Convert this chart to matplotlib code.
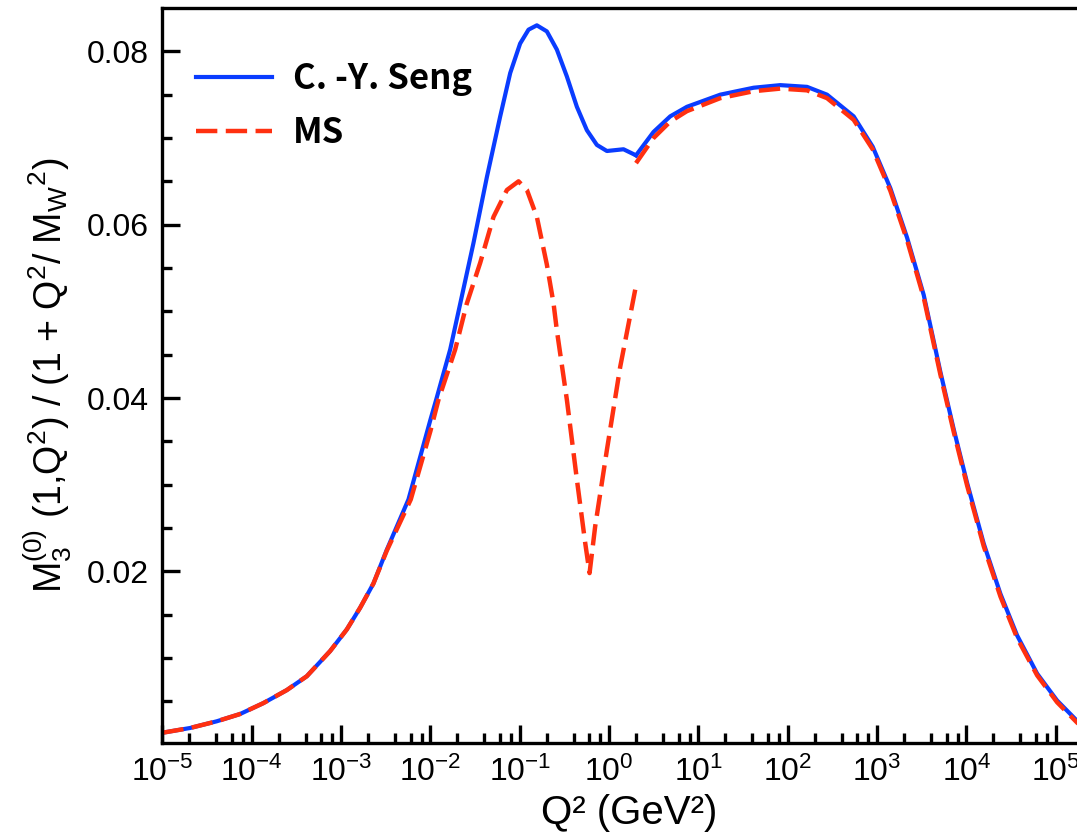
"""Plot M3^(0)(1,Q^2)/(1+Q^2/MW^2) versus Q^2: C.-Y. Seng vs MS."""

import matplotlib.pyplot as plt
import numpy as np
from matplotlib.ticker import FixedLocator, LogLocator, NullFormatter

plt.rcParams["font.family"] = ["Liberation Sans", "DejaVu Sans"]
plt.rcParams["mathtext.fontset"] = "custom"
plt.rcParams["mathtext.rm"] = "Liberation Sans"
plt.rcParams["mathtext.it"] = "Liberation Sans:italic"
plt.rcParams["mathtext.bf"] = "Liberation Sans:bold"
plt.rcParams["axes.unicode_minus"] = False

# log10(Q^2 / GeV^2) and curve values
seng_low_logq2 = [-5.0, -4.69, -4.392, -4.131, -3.87, -3.608, -3.384, -3.123,
                  -2.936, -2.787, -2.638, -2.488, -2.246, -2.0, -1.936, -1.779,
                  -1.66, -1.518, -1.368, -1.219, -1.107, -0.996, -0.902, -0.809,
                  -0.697, -0.585, -0.473, -0.361, -0.249, -0.137, -0.025, 0.161,
                  0.301]
seng_low_val = [0.00138, 0.00193, 0.0027, 0.00354, 0.0048, 0.0063, 0.0079, 0.0108,
                0.0133, 0.0158, 0.0186, 0.0225, 0.0283, 0.0375, 0.0398, 0.0456,
                0.0512, 0.0579, 0.0655, 0.0725, 0.0775, 0.0809, 0.0825, 0.0830,
                0.0823, 0.0802, 0.0771, 0.0736, 0.0709, 0.0692, 0.0685, 0.0687,
                0.0680]

seng_high_logq2 = [0.301, 0.497, 0.684, 0.871, 1.244, 1.617, 1.916, 2.215, 2.439,
                   2.737, 2.95, 3.148, 3.335, 3.521, 3.708, 3.857, 4.007, 4.193,
                   4.380, 4.567, 4.791, 5.014, 5.243, 5.45]
seng_high_val = [0.0680, 0.0707, 0.0725, 0.0736, 0.0750, 0.0758, 0.0761, 0.0759,
                 0.0750, 0.0725, 0.0690, 0.0642, 0.0585, 0.0519, 0.0430, 0.0364,
                 0.0302, 0.0232, 0.0174, 0.0126, 0.0082, 0.0051, 0.0027, 0.0015]

ms_low_logq2 = [-5.0, -4.69, -4.392, -4.131, -3.87, -3.608, -3.384, -3.123,
                -2.936, -2.787, -2.638, -2.488, -2.22, -2.0, -1.91, -1.723,
                -1.593, -1.443, -1.294, -1.144, -1.014, -0.92, -0.809, -0.697,
                -0.622, -0.585, -0.473, -0.361, -0.268, -0.219, -0.156, -0.025,
                0.124, 0.292]
ms_low_val = [0.00138, 0.00193, 0.0027, 0.00354, 0.0048, 0.0063, 0.0079, 0.0108,
              0.0133, 0.0158, 0.0186, 0.0224, 0.0283, 0.0362, 0.0398, 0.0456,
              0.0509, 0.0556, 0.0609, 0.0640, 0.0650, 0.0640, 0.0609, 0.0554,
              0.0509, 0.0478, 0.0398, 0.0306, 0.0233, 0.0198, 0.0252, 0.0340,
              0.0436, 0.0525]

ms_high_logq2 = [0.301, 0.497, 0.684, 0.871, 1.244, 1.617, 1.916, 2.215, 2.439,
                 2.737, 2.95, 3.148, 3.335, 3.521, 3.708, 3.857, 4.007, 4.193,
                 4.380, 4.567, 4.791, 5.014, 5.243, 5.45]
ms_high_val = [0.0671, 0.0700, 0.0719, 0.0731, 0.0746, 0.0754, 0.0757, 0.0755,
               0.0746, 0.0721, 0.0687, 0.0639, 0.0582, 0.0516, 0.0427, 0.0361,
               0.0299, 0.0229, 0.0171, 0.0123, 0.0080, 0.0049, 0.0025, 0.0014]

BLUE = "#0a3cff"
RED = "#ff3010"
DASHES = (4.8, 1.9)


def main() -> None:
    fig = plt.figure(figsize=(10.77, 8.32), dpi=100)
    ax = fig.add_axes([0.1508, 0.1070, 0.8663, 0.8834])

    ax.plot(10 ** np.array(seng_low_logq2), seng_low_val, color=BLUE,
            linewidth=3, label="C. -Y. Seng")
    ax.plot(10 ** np.array(seng_high_logq2), seng_high_val, color=BLUE,
            linewidth=3)
    ax.plot(10 ** np.array(ms_low_logq2), ms_low_val, color=RED, linewidth=3.2,
            dashes=DASHES, label="MS")
    ax.plot(10 ** np.array(ms_high_logq2), ms_high_val, color=RED, linewidth=3.2,
            dashes=DASHES)

    ax.set_xscale("log")
    ax.set_xlim(1e-5, 10 ** 5.443)
    ax.set_ylim(0.0002, 0.085)

    ax.xaxis.set_major_locator(LogLocator(base=10, numticks=20))
    ax.xaxis.set_minor_locator(LogLocator(base=10, subs=[2, 4, 6, 8], numticks=20))
    ax.xaxis.set_minor_formatter(NullFormatter())
    ax.yaxis.set_major_locator(FixedLocator([0.02, 0.04, 0.06, 0.08]))
    ax.yaxis.set_minor_locator(FixedLocator(np.arange(0.005, 0.085, 0.005)))
    ax.set_yticklabels(["0.02", "0.04", "0.06", "0.08"])

    ax.tick_params(which="both", direction="in", top=False, right=False,
                   width=2.4, labelsize=23, pad=10)
    ax.tick_params(which="major", length=13)
    ax.tick_params(which="minor", length=7)
    for spine in ax.spines.values():
        spine.set_linewidth(2.4)

    ax.set_xlabel("Q² (GeV²)", fontsize=29, labelpad=4)
    ax.set_ylabel(r"M$\mathregular{_3^{(0)}}$ (1,Q$\mathregular{^2}$) / "
                  r"(1 + Q$\mathregular{^2}$/ M$\mathregular{_W}$$\mathregular{^2}$)",
                  fontsize=27, labelpad=9)

    ax.legend(loc="upper left", bbox_to_anchor=(0.0356, 0.928), frameon=False,
              prop={"family": ["Noto Sans CJK JP", "DejaVu Sans"],
                    "weight": "bold", "size": 25},
              handlelength=2.2, handletextpad=0.6, labelspacing=0.55,
              borderpad=0, borderaxespad=0)

    fig.savefig("out.png", dpi=100)


if __name__ == "__main__":
    main()
